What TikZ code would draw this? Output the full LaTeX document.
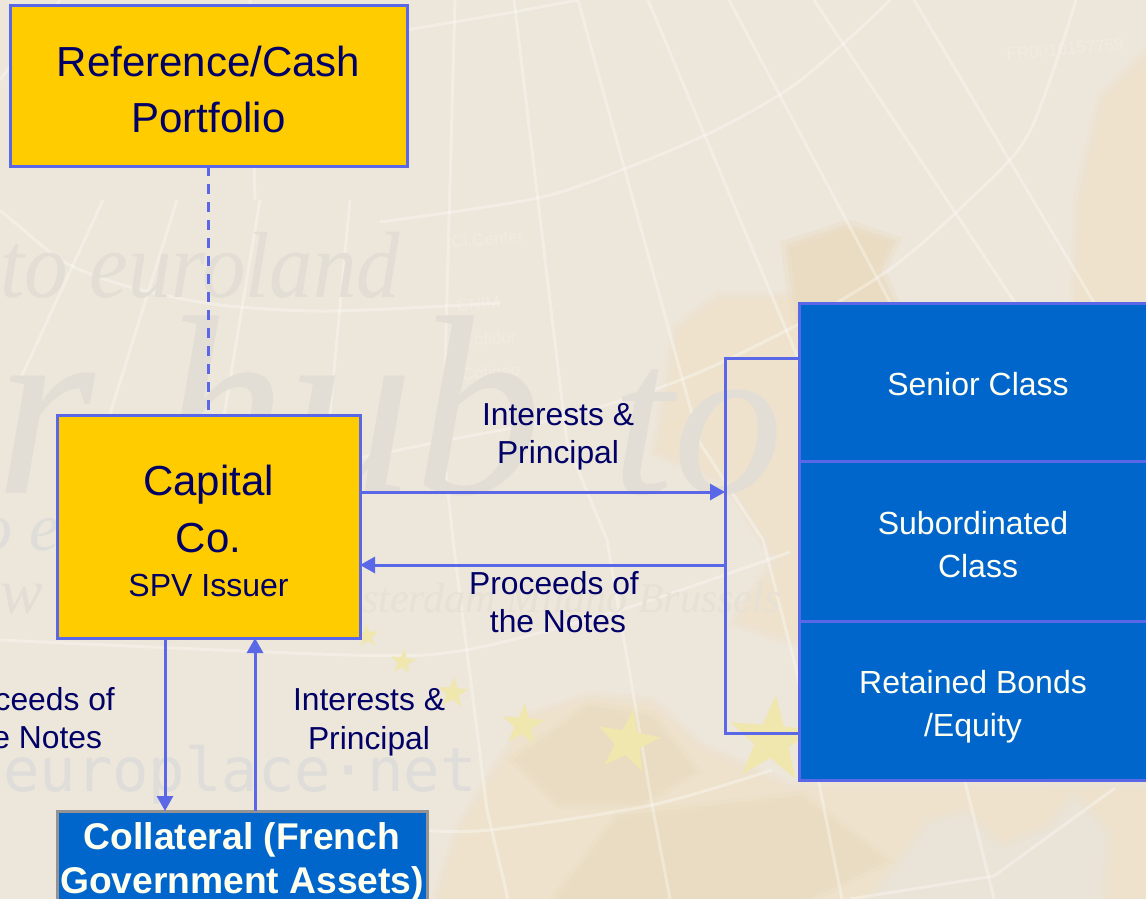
\documentclass[tikz,border=0pt]{standalone}
\usepackage{fontspec}
\setmainfont{Liberation Sans}
\newfontfamily\wmserif{Liberation Serif}
\newfontfamily\wmserifn[FakeStretch=0.925]{Liberation Serif}
\newfontfamily\wmmono{DejaVu Sans Mono}
\usetikzlibrary{arrows.meta,shapes.geometric}
\definecolor{paper}{HTML}{EDE6DA}
\definecolor{land}{HTML}{EEE2CC}
\definecolor{landdeep}{HTML}{EADCC2}
\definecolor{haze}{HTML}{EAE3D8}
\definecolor{wmgray}{HTML}{E2DED5}
\definecolor{wmfaint}{HTML}{E6E0D5}
\definecolor{wmblue}{HTML}{DEDDD9}
\definecolor{gold}{HTML}{FFCC00}
\definecolor{royal}{HTML}{0066CC}
\definecolor{edge}{HTML}{5A68E8}
\definecolor{ink}{HTML}{000066}
\definecolor{cream}{HTML}{FFFFF0}
\definecolor{stargold}{HTML}{EFE7AE}
\tikzset{
  x=1pt,y=-1pt,
  box/.style={rectangle,draw=edge,line width=3pt,inner sep=0pt,outer sep=0pt,align=center,anchor=north west},
  goldbox/.style={box,fill=gold,text=ink},
  bluebox/.style={box,fill=royal,text=cream},
  big/.style={font=\fontsize{42}{56}\selectfont},
  mid/.style={font=\fontsize{32}{43}\selectfont},
  lab/.style={text=ink,align=center,inner sep=0pt,font=\fontsize{31.8}{38.5}\selectfont},
  link/.style={draw=edge,line width=3pt},
  flow/.style={link,-{Triangle[length=15pt,width=16pt]}},
  dashlink/.style={draw=edge,line width=3pt,dash pattern=on 10pt off 8pt},
  grid/.style={draw=white,opacity=.32,line width=3pt,line join=round},
  eustar/.style={star,star points=5,star point ratio=2.5,fill=stargold,inner sep=0pt,draw=none},
  wm/.style={inner sep=0pt,anchor=base west},
  tbl/.style={inner sep=0pt,anchor=base west,text=white,text opacity=.22,rotate=5,font=\fontsize{17}{17}\selectfont},
  soft/.style={fill=#1,line join=round,
    preaction={draw=#1,line width=18pt,opacity=.3},
    preaction={draw=#1,line width=9pt,opacity=.5}},
}
\begin{document}
\begin{tikzpicture}
\useasboundingbox (0,0) rectangle (1146,899);
\clip (0,0) rectangle (1146,899);
\fill[paper] (0,0) rectangle (1146,899);
% map
\path[soft=land] (440,899) -- (462,830) -- (500,770) -- (530,720) -- (590,700) -- (650,705) -- (700,750) -- (790,790) -- (1146,790) -- (1146,899) -- cycle;
\path[soft=landdeep] (520,760) -- (590,710) -- (650,720) -- (690,770) -- (640,800) -- (560,800) -- cycle;
\path[soft=landdeep] (560,899) -- (620,820) -- (800,800) -- (880,860) -- (800,899) -- cycle;
\path[soft=haze] (875,899) -- (905,860) -- (930,825) -- (965,815) -- (1000,850) -- (1050,830) -- (1075,800) -- (1105,835) -- (1100,899) -- cycle;
\path[soft=land] (680,330) -- (720,300) -- (800,300) -- (800,640) -- (740,620) -- (780,560) -- (730,480) -- (660,450) -- cycle;
\path[soft=landdeep] (790,248) -- (848,229) -- (890,243) -- (876,271) -- (900,324) -- (800,320) -- cycle;
\path[soft=land] (671,429) -- (740,386) -- (745,440) -- (680,445) -- cycle;
\path[soft=land] (1146,60) -- (1105,100) -- (1082,200) -- (1078,300) -- (1146,300) -- cycle;
\path[soft=haze] (1060,780) -- (1146,780) -- (1146,660) -- cycle;
% table traces
\node[tbl] (t1) at (1007,60) {FR0010157769};
\node[tbl] (t2) at (1028,384) {FR0000064164};
\node[tbl] (t3) at (452,248) {Cl.Center};
\node[tbl] (t4) at (457,312) {CNIM};
\node[tbl] (t5) at (462,347) {Cofidur};
\node[tbl] (t6) at (462,381) {Cofigeo};
% graticule
\draw[grid] (400,31) -- (514,12) -- (578,0);
\draw[grid] plot[smooth] coordinates {(380,222) (538,198) (629,167) (714,131) (790,88) (852,36) (890,0)};
\draw[grid] plot[smooth] coordinates {(360,458) (448,440) (564,417) (683,379) (795,326) (890,269) (967,202) (1029,133) (1076,0)};
\draw[grid] plot[smooth] coordinates {(0,210) (20,227) (66,263) (130,287) (220,305) (330,311) (500,303)};
\draw[grid] plot[smooth] coordinates {(0,640) (350,655) (465,650) (620,610) (790,552)};
\draw[grid] plot[smooth] coordinates {(420,830) (490,830) (652,805) (772,770)};
\draw[grid] (850,899) -- (994,876) -- (1115,788);
\draw[grid] (1146,420) -- (1050,520) -- (890,640);
\draw[grid] (455,0) -- (443,443) -- (453,540) -- (487,810) -- (508,899);
\draw[grid] (514,0) -- (567,443) -- (607,540) -- (653,810) -- (670,899);
\draw[grid] (578,0) -- (700,443) -- (763,540) -- (797,673) -- (842,899);
\draw[grid] (648,0) -- (824,420) -- (930,640) -- (994,899);
\draw[grid] (729,0) -- (957,428);
\draw[grid] (814,0) -- (1067,381);
\draw[grid] (914,0) -- (1146,390);
\draw[grid] (103,200) -- (20,380);
\draw[grid] (177,200) -- (105,430);
\draw[grid] (260,200) -- (220,440);
\draw[grid] (350,200) -- (320,520);
\draw[grid] (60,0) -- (0,80);
\draw[grid] (250,0) -- (255,200);
% stars
\node[eustar,minimum size=24pt,rotate=5] (star1) at (367,636) {};
\node[eustar,minimum size=26pt,rotate=-8] (star2) at (403,662) {};
\node[eustar,minimum size=32pt,rotate=-5] (star3) at (453,693) {};
\node[eustar,minimum size=44pt,rotate=-5] (star4) at (523,725) {};
\node[eustar,minimum size=66pt,rotate=-10] (star5) at (628,742) {};
\node[eustar,minimum size=90pt,rotate=-5] (star6) at (772,740) {};
% watermark words
\node[wm,text=wmgray,font=\wmserifn\itshape\fontsize{94}{94}\selectfont] (wm1) at (0,297) {to euroland};
\node[wm,text=wmgray,font=\wmserif\itshape\fontsize{256}{256}\selectfont] (wm2) at (-5,493) {r hub};
\node[wm,text=wmgray,font=\wmserif\itshape\fontsize{220}{220}\selectfont] (wm2b) at (612,493) {to};
\node[wm,text=wmblue,font=\wmserif\itshape\fontsize{68}{68}\selectfont] (wm3) at (-22,550) {o e};
\node[wm,text=wmgray,font=\wmserif\itshape\fontsize{64}{64}\selectfont] (wm4) at (0,613) {w Y};
\node[wm,text=wmfaint,font=\wmserif\itshape\fontsize{42}{42}\selectfont] (wm5) at (362,612) {sterdam Milano Brussels};
\node[wm,text=wmblue,font=\wmmono\fontsize{60.5}{60.5}\selectfont] (wm6) at (3,791) {europlace·net};
% boxes
\node[goldbox,big,minimum width=397pt,minimum height=160pt] (ref) at (10,6) {\rule{0pt}{37pt}Reference/Cash\\Portfolio};
\node[goldbox,font=\fontsize{42}{57}\selectfont,minimum width=303pt,minimum height=223pt] (cap) at (57,415) {\rule{0pt}{39pt}Capital\\Co.\\[-13pt]{\fontsize{32}{40}\selectfont SPV Issuer}};
\node[bluebox,font=\bfseries\fontsize{37.2}{44.5}\selectfont,draw=gray!85,minimum width=370pt,minimum height=96pt] (coll) at (57,811) {\rule{0pt}{33pt}Collateral (French\\Government Assets)};
\node[bluebox,mid,minimum width=358pt,minimum height=158pt] (senior) at (799,303) {\rule{0pt}{28pt}Senior Class};
\node[bluebox,mid,minimum width=358pt,minimum height=160pt] (sub) at (799,461) {\rule{0pt}{30pt}Subordinated\hspace*{10pt}\\Class};
\node[bluebox,mid,minimum width=358pt,minimum height=159pt] (ret) at (799,621) {\rule{0pt}{36pt}Retained Bonds\hspace*{10pt}\\/Equity\hspace*{10pt}};
% labels
\node[lab] (l1) at (558,437) {Interests \&\\Principal};
\node[lab] (l2) at (554,602) {Proceeds of\\\hspace*{8pt}the Notes};
\node[lab] (l3) at (30,718) {Proceeds of\\\hspace*{8pt}the Notes};
\node[lab] (l4) at (369,722.5) {Interests \&\\Principal};
% connectors
\coordinate (busTop) at (725,358);
\coordinate (busBot) at (725,733);
\coordinate (busIn) at (725,492);
\coordinate (busOut) at (725,565);
\coordinate (downX) at (165,700);
\coordinate (upX) at (255,700);
\draw[dashlink] (ref.south) -- (cap.north);
\draw[link] (senior.west |- busTop) -- (busTop) -- (busBot) -- (ret.west |- busBot);
\draw[flow] (cap.east |- busIn) -- (busIn);
\draw[flow] (busOut) -- (cap.east |- busOut);
\draw[flow] (cap.south -| downX) -- (coll.north -| downX);
\draw[flow] (coll.north -| upX) -- (cap.south -| upX);
\end{tikzpicture}
\end{document}
